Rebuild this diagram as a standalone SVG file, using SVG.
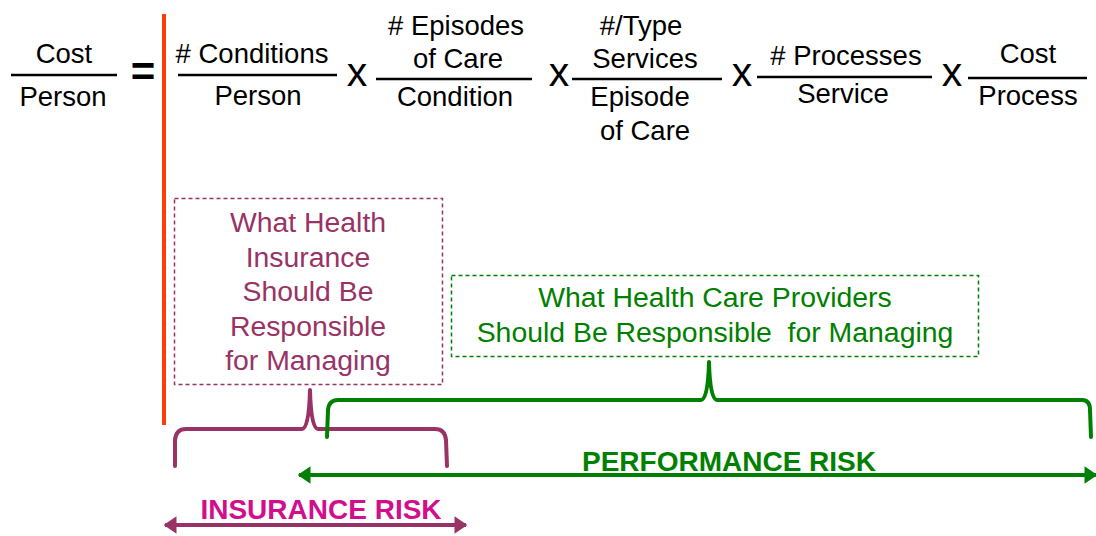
<svg xmlns="http://www.w3.org/2000/svg" width="1096" height="536" viewBox="0 0 1096 536">
  <style>
    text { font-family: "Liberation Sans", Arial, sans-serif; }
    .eq { font-size: 27.5px; fill: #000; text-anchor: middle; }
    .op { font-size: 41px; fill: #000; text-anchor: middle; }
    .bar { stroke: #000; stroke-width: 2.5; }
    .ins { font-size: 28.4px; fill: #993366; text-anchor: middle; }
    .prov { font-size: 28.4px; fill: #008000; text-anchor: middle; }
    .risk { font-size: 28px; font-weight: bold; text-anchor: middle; }
    .brace { fill: none; stroke-width: 4; stroke-linejoin: round; stroke-linecap: round; }
  </style>
  <defs>
    <marker id="headGreen" viewBox="0 0 10 10" refX="9" refY="5" markerWidth="3.2" markerHeight="4.4" orient="auto-start-reverse" markerUnits="strokeWidth" preserveAspectRatio="none">
      <path d="M10,5 L0,0 L0,10 Z" fill="#008000"/>
    </marker>
    <marker id="headPurple" viewBox="0 0 10 10" refX="9" refY="5" markerWidth="3.2" markerHeight="4.4" orient="auto-start-reverse" markerUnits="strokeWidth" preserveAspectRatio="none">
      <path d="M10,5 L0,0 L0,10 Z" fill="#993366"/>
    </marker>
  </defs>
  <rect width="1096" height="536" fill="#fff"/>

  <!-- cost equation -->
  <g id="equation">
    <text class="eq" x="64" y="63">Cost</text>
    <line class="bar" x1="11" y1="75" x2="117" y2="75"/>
    <text class="eq" x="63" y="106">Person</text>
    <text x="143" y="86" font-size="42" font-weight="bold" text-anchor="middle">=</text>

    <text class="eq" x="252" y="63"># Conditions</text>
    <line class="bar" x1="178" y1="75" x2="337" y2="75"/>
    <text class="eq" x="258" y="105">Person</text>
    <text class="op" x="357" y="86">x</text>

    <text class="eq" x="456" y="35"># Episodes</text>
    <text class="eq" x="458" y="68">of Care</text>
    <line class="bar" x1="376" y1="79" x2="532" y2="79"/>
    <text class="eq" x="455" y="106">Condition</text>
    <text class="op" x="559" y="86">x</text>

    <text class="eq" x="641" y="35">#/Type</text>
    <text class="eq" x="645" y="68">Services</text>
    <line class="bar" x1="572" y1="79" x2="722" y2="79"/>
    <text class="eq" x="640" y="106">Episode</text>
    <text class="eq" x="645" y="140">of Care</text>
    <text class="op" x="742" y="86">x</text>

    <text class="eq" x="846" y="65"># Processes</text>
    <line class="bar" x1="757" y1="77" x2="932" y2="77"/>
    <text class="eq" x="843" y="103">Service</text>
    <text class="op" x="952" y="86">x</text>

    <text class="eq" x="1028" y="63">Cost</text>
    <line class="bar" x1="968" y1="78" x2="1087" y2="78"/>
    <text class="eq" x="1028" y="105">Process</text>
  </g>

  <!-- divider between total and factors -->
  <line x1="164" y1="14" x2="164" y2="425" stroke="#FF3C0A" stroke-width="4"/>

  <g id="insurance-box">
    <rect x="174.5" y="198.5" width="268" height="186" fill="none" stroke="#993366" stroke-width="1.5" stroke-dasharray="4,3"/>
    <text class="ins" x="308" y="232">What Health</text>
    <text class="ins" x="308" y="267">Insurance</text>
    <text class="ins" x="308" y="301">Should Be</text>
    <text class="ins" x="308" y="336">Responsible</text>
    <text class="ins" x="308" y="370">for Managing</text>
  </g>

  <g id="provider-box">
    <rect x="451.5" y="275.5" width="527" height="81" fill="none" stroke="#008000" stroke-width="1.5" stroke-dasharray="4,3"/>
    <text class="prov" x="715" y="307">What Health Care Providers</text>
    <text class="prov" x="715" y="342" xml:space="preserve">Should Be Responsible  for Managing</text>
  </g>

  <g id="connectors">
    <!-- braces -->
    <path class="brace" stroke="#993366" d="M175,466 L175,440 Q176,429 186,429 L302,429 Q309,429 310,390 Q311,429 318,429 L435,429 Q445,429 446,440 L447,466"/>
    <path class="brace" stroke="#008000" d="M327,437 L328,410 Q329,400 338,400 L701,400 Q708,400 709,362 Q710,400 717,400 L1082,400 Q1090,400 1090,410 L1091,437"/>
    <!-- risk ranges -->
    <line x1="299" y1="475" x2="1096" y2="475" stroke="#008000" stroke-width="4" marker-start="url(#headGreen)" marker-end="url(#headGreen)"/>
    <line x1="165" y1="525" x2="466" y2="525" stroke="#993366" stroke-width="4" marker-start="url(#headPurple)" marker-end="url(#headPurple)"/>
  </g>

  <g id="risk-labels">
    <text class="risk" x="729" y="471" fill="#008000">PERFORMANCE RISK</text>
    <text class="risk" x="321" y="519" fill="#D10E8C">INSURANCE RISK</text>
  </g>
</svg>
